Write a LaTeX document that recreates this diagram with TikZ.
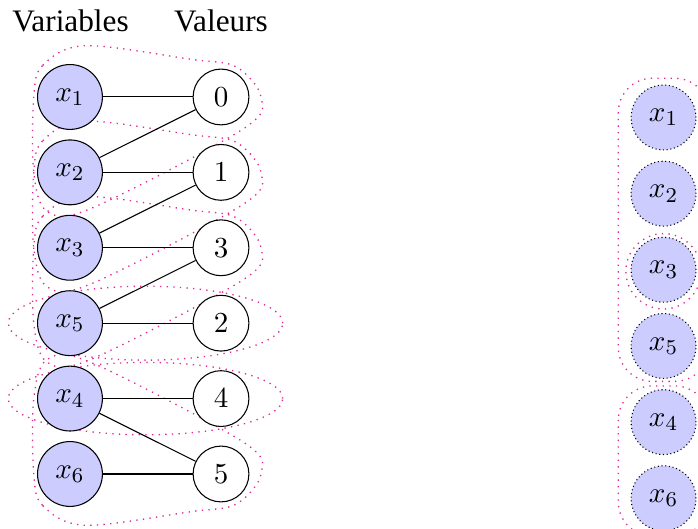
\documentclass[tikz,border=0pt]{standalone}
\usepackage[no-math]{fontspec}
\setmainfont{Liberation Serif}
\usetikzlibrary{positioning, calc, backgrounds}
\definecolor{hullpink}{RGB}{226,40,150}

\begin{document}
\begin{tikzpicture}[font=\fontsize{11}{13}\selectfont, node distance=1cm, on grid, hull/.style={draw=hullpink, dotted, line width=0.5pt}]
\tikzstyle{var} = [circle, draw, fill=blue!20, minimum size=0.86cm, inner sep=0pt]
\tikzstyle{val} = [circle, draw, fill=white, minimum size=0.74cm, inner sep=0pt]
\tikzstyle{title} = [font=\fontsize{11.8}{14}\selectfont]
\clip (0,0) rectangle (9.257,-7.003);
% titles
\node[title] (vars) at (0.935,-0.28) {Variables};
\node[title] (vals) at (2.93,-0.28) {Valeurs};
% variables
\node[var] (x1) at (0.928,-1.286) {$x_1$};
\node[var, below=of x1] (x2) {$x_2$};
\node[var, below=of x2] (x3) {$x_3$};
\node[var, below=of x3] (x5) {$x_5$};
\node[var, below=of x5] (x4) {$x_4$};
\node[var, below=of x4] (x6) {$x_6$};
% values
\node[val] (v0) at (2.931,-1.286) {$0$};
\node[val, below=of v0] (v1) {$1$};
\node[val, below=of v1] (v3) {$3$};
\node[val, below=of v3] (v2) {$2$};
\node[val, below=of v2] (v4) {$4$};
\node[val, below=of v4] (v5) {$5$};
\foreach \a/\b in {x1/v0, x2/v0, x2/v1, x3/v1, x3/v3, x5/v3, x5/v2, x4/v4, x4/v5, x6/v5}
  \draw (\a) -- (\b);
% right column
\node[var, densely dotted] (r1) at (8.80,-1.558) {$x_1$};
\node[var, densely dotted, below=1.01cm of r1] (r2) {$x_2$};
\node[var, densely dotted, below=1.01cm of r2] (r3) {$x_3$};
\node[var, densely dotted, below=1.01cm of r3] (r5) {$x_5$};
\node[var, densely dotted, below=1.01cm of r5] (r4) {$x_4$};
\node[var, densely dotted, below=1.01cm of r4] (r6) {$x_6$};
\begin{scope}[on background layer]
\foreach \a/\b/\c/\s in {x1/v0/x2/1, x2/v1/x3/1, x3/v3/x5/1, x6/v5/x4/-1}
  \draw[hull] plot[smooth cycle, tension=0.55] coordinates {($(\a)+(-0.48,0)$) ($(\a)+(-0.36,0.42*\s)$) ($(\a)+(0.2,0.68*\s)$) ($(\b)+(-0.4,0.5*\s)$) ($(\b)+(0.2,0.4*\s)$) ($(\b)+(0.53,0)$) ($(\b)+(0.3,-0.42*\s)$) ($(\c)+(0.3,-0.47*\s)$) ($(\c)+(-0.3,-0.52*\s)$) ($(\c)+(-0.48,0)$)};
\draw[hull] ($(x5)!0.5!(v2)$) ellipse [x radius=1.82cm, y radius=0.49cm];
\draw[hull] ($(x4)!0.5!(v4)$) ellipse [x radius=1.82cm, y radius=0.48cm];
\draw[hull, rounded corners=0.45cm] ($(r1)+(-0.6,0.52)$) rectangle ($(r5)+(0.6,-0.47)$);
\draw[hull] ($(r3)+(0,-0.02)$) circle [radius=0.5cm];
\draw[hull, rounded corners=0.45cm] ($(r4)+(-0.6,0.48)$) rectangle ($(r6)+(0.6,-0.5)$);
\end{scope}
\end{tikzpicture}
\end{document}
